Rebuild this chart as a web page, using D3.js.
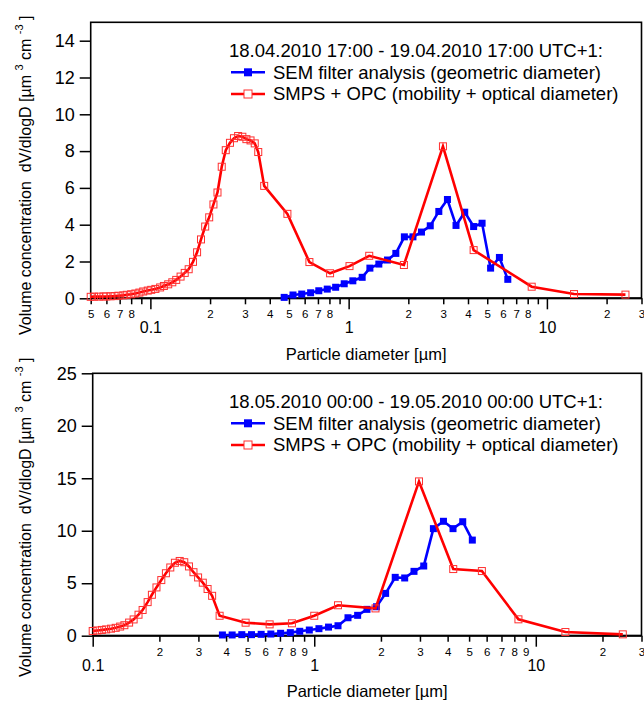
<!DOCTYPE html>
<html>
<head>
<meta charset="utf-8">
<script src="https://cdn.jsdelivr.net/npm/d3@7"></script>
<style>
  body { margin: 0; background: #fff; }
  svg text { font-family: "Liberation Sans", Arial, sans-serif; fill: #000; }
</style>
</head>
<body>
<div id="chart"></div>
<script>

// legend texts
var seriesNames = ["SEM filter analysis (geometric diameter)", "SMPS + OPC (mobility + optical diameter)"];
var topTitle = "18.04.2010 17:00 - 19.04.2010 17:00 UTC+1:";
var botTitle = "18.05.2010 00:00 - 19.05.2010 00:00 UTC+1:";

// top panel - SEM (blue)
var topSemD = [0.473,0.524,0.580,0.643,0.707,0.780,0.860,0.950,1.05,1.17,1.28,1.42,1.57,1.73,1.91,2.11,2.33,2.58,2.85,3.15,3.48,3.85,4.27,4.71,5.20,5.76,6.35];
var topSemV = [0.05,0.18,0.23,0.30,0.41,0.50,0.60,0.79,0.95,1.14,1.64,1.86,2.08,2.44,3.34,3.34,3.60,3.94,4.72,5.37,3.96,4.68,3.90,4.08,1.64,2.22,1.03];

// top panel - SMPS + OPC (red)
var topSmpsD = [0.050,0.052,0.055,0.058,0.060,0.063,0.066,0.069,0.073,0.076,0.080,0.084,0.088,0.092,0.097,0.101,0.106,0.112,0.117,0.123,0.129,0.135,0.142,0.149,0.156,0.164,0.172,0.180,0.189,0.198,0.208,0.218,0.229,0.240,0.252,0.264,0.277,0.291,0.305,0.320,0.336,0.350,0.375,0.491,0.634,0.806,1.01,1.27,1.90,2.99,4.27,8.38,13.7,24.9];
var topSmpsV = [0.08,0.09,0.09,0.10,0.10,0.11,0.12,0.14,0.16,0.19,0.22,0.26,0.31,0.37,0.42,0.46,0.51,0.59,0.67,0.76,0.87,1.00,1.18,1.38,1.58,1.98,2.50,3.20,3.90,4.40,5.10,5.75,7.15,8.05,8.45,8.70,8.82,8.78,8.65,8.58,8.42,7.95,6.11,4.59,1.97,1.36,1.75,2.31,1.81,8.26,2.62,0.63,0.23,0.20];

// bottom panel - SEM (blue)
var botSemD = [0.385,0.426,0.471,0.521,0.576,0.637,0.705,0.780,0.860,0.950,1.05,1.16,1.28,1.42,1.57,1.73,1.91,2.10,2.32,2.56,2.82,3.12,3.45,3.83,4.23,4.68,5.17];
var botSemV = [0.07,0.07,0.10,0.10,0.13,0.16,0.23,0.29,0.42,0.54,0.67,0.82,0.95,1.71,1.94,2.51,2.76,4.03,5.56,5.50,6.13,6.64,10.2,10.9,10.2,10.86,9.11];

// bottom panel - SMPS + OPC (red)
var botSmpsD = [0.100,0.105,0.110,0.115,0.121,0.127,0.133,0.139,0.146,0.153,0.161,0.168,0.177,0.185,0.194,0.204,0.214,0.224,0.235,0.247,0.259,0.272,0.285,0.299,0.314,0.330,0.346,0.374,0.490,0.629,0.793,1.00,1.28,1.89,2.97,4.24,5.71,8.35,13.6,24.7];
var botSmpsV = [0.45,0.50,0.55,0.60,0.67,0.75,0.87,1.00,1.25,1.55,2.00,2.45,3.20,3.90,4.60,5.30,5.95,6.50,6.95,7.12,7.00,6.60,6.05,5.55,5.05,4.45,3.80,1.90,1.24,1.08,1.18,1.90,2.90,2.60,14.7,6.35,6.16,1.56,0.35,0.13];

// axis ticks
var topYTicks = [0,2,4,6,8,10,12,14];
var botYTicks = [0,5,10,15,20,25];
var majorTicks = [0.1,1,10];
var topMinorLabels = [0.05,0.06,0.07,0.08,0.2,0.3,0.4,0.5,0.6,0.7,0.8,2,3,4,5,6,7,8,20,30];
var botMinorLabels = [0.2,0.3,0.4,0.5,0.6,0.7,0.8,0.9,2,3,4,5,6,7,8,9,20,30];

function init() {

    var svg = d3.select("#chart")
        .append("svg")
        .attr("width", 644)
        .attr("height", 701);

    drawPanel(svg, {
        left: 90.7, right: 641.5, top: 22.3, bottom: 298.3,
        xDomain: [0.05, 30], yDomain: [0, 15], yTicks: topYTicks,
        minorLabels: topMinorLabels, title: topTitle,
        sem: [topSemD, topSemV], smps: [topSmpsD, topSmpsV],
        yLabelStart: 335, xTitleY: 360
    });

    drawPanel(svg, {
        left: 92.7, right: 641.5, top: 373.3, bottom: 635.7,
        xDomain: [0.1, 30], yDomain: [0, 25], yTicks: botYTicks,
        minorLabels: botMinorLabels, title: botTitle,
        sem: [botSemD, botSemV], smps: [botSmpsD, botSmpsV],
        yLabelStart: 677, xTitleY: 697
    });
}

function drawPanel(svg, p) {

    var x = d3.scaleLog().domain(p.xDomain).range([p.left, p.right]);
    var y = d3.scaleLinear().domain(p.yDomain).range([p.bottom, p.top]);

    // all 1..9 ticks in each decade inside the domain
    var allTicks = [];
    [0.01, 0.1, 1, 10].forEach(function(dec) {
        for (var k = 1; k <= 9; k++) {
            var v = +(k * dec).toPrecision(3);
            if (v >= p.xDomain[0] - 1e-9 && v <= p.xDomain[1] + 1e-9) allTicks.push(v);
        }
    });

    function isMajor(v) { return majorTicks.some(m => Math.abs(m - v) < 1e-9); }
    function hasLabel(v) { return p.minorLabels.some(m => Math.abs(m - v) < 1e-9); }

    var xAxis = d3.axisBottom(x)
        .tickValues(allTicks)
        .tickSize(6)
        .tickFormat(function(v) {
            if (isMajor(v)) return String(v);
            if (hasLabel(v)) return String(Math.round(v / Math.pow(10, Math.floor(Math.log10(v) + 1e-9))));
            return "";
        });

    var gx = svg.append("g")
        .attr("transform", "translate(0," + p.bottom + ")")
        .call(xAxis);
    gx.select(".domain").remove();
    gx.selectAll(".tick line")
        .attr("stroke-width", 1.5)
        .attr("y2", d => isMajor(d) ? 11 : 6);
    gx.selectAll(".tick text")
        .attr("dy", null)
        .attr("y", d => isMajor(d) ? 35 : 20)
        .attr("font-size", d => isMajor(d) ? "16px" : "11.5px");

    var yAxis = d3.axisLeft(y)
        .tickValues(p.yTicks)
        .tickSize(11)
        .tickPadding(5)
        .tickFormat(d3.format("d"));

    var gy = svg.append("g")
        .attr("transform", "translate(" + p.left + ",0)")
        .call(yAxis);
    gy.select(".domain").remove();
    gy.selectAll(".tick line").attr("stroke-width", 1.5);
    gy.selectAll(".tick text").attr("font-size", "18px");

    // frame
    svg.append("rect")
        .attr("x", p.left)
        .attr("y", p.top)
        .attr("width", p.right - p.left)
        .attr("height", p.bottom - p.top)
        .attr("fill", "none")
        .attr("stroke", "#000")
        .attr("stroke-width", 1.6);
    // heavier bottom axis line
    svg.append("line")
        .attr("x1", p.left).attr("x2", p.right)
        .attr("y1", p.bottom).attr("y2", p.bottom)
        .attr("stroke", "#000")
        .attr("stroke-width", 2);

    var line = d3.line()
        .x(d => x(d[0]))
        .y(d => y(d[1]));

    var semData = d3.zip(p.sem[0], p.sem[1]);
    var smpsData = d3.zip(p.smps[0], p.smps[1]);
    var ms = 7;

    // SEM
    svg.append("path")
        .datum(semData)
        .attr("d", line)
        .attr("fill", "none")
        .attr("stroke", "#0000ff")
        .attr("stroke-width", 2.6);
    svg.append("g").selectAll("rect")
        .data(semData)
        .enter()
        .append("rect")
        .attr("x", d => x(d[0]) - ms / 2)
        .attr("y", d => y(d[1]) - ms / 2)
        .attr("width", ms)
        .attr("height", ms)
        .attr("fill", "#0000ff");

    // SMPS + OPC
    svg.append("path")
        .datum(smpsData)
        .attr("d", line)
        .attr("fill", "none")
        .attr("stroke", "#ff0000")
        .attr("stroke-width", 2.6);
    svg.append("g").selectAll("rect")
        .data(smpsData)
        .enter()
        .append("rect")
        .attr("x", d => x(d[0]) - ms / 2)
        .attr("y", d => y(d[1]) - ms / 2)
        .attr("width", ms)
        .attr("height", ms)
        .attr("fill", "none")
        .attr("stroke", "#ff3030")
        .attr("stroke-width", 1);

    // legend
    var lg = svg.append("g");
    lg.append("text")
        .attr("x", 229)
        .attr("y", p.top + 35)
        .attr("font-size", "18.5px")
        .text(p.title);

    [0, 1].forEach(function(i) {
        var cy = p.top + 50 + i * 21.7;
        var col = i === 0 ? "#0000ff" : "#ff0000";
        lg.append("line")
            .attr("x1", 231).attr("x2", 265)
            .attr("y1", cy).attr("y2", cy)
            .attr("stroke", col)
            .attr("stroke-width", 2.6);
        lg.append("rect")
            .attr("x", 248 - 4).attr("y", cy - 4)
            .attr("width", 8).attr("height", 8)
            .attr("fill", i === 0 ? col : "#fff")
            .attr("stroke", i === 0 ? "none" : "#ff3030")
            .attr("stroke-width", 1);
        lg.append("text")
            .attr("x", 273)
            .attr("y", cy)
            .attr("dy", "0.35em")
            .attr("font-size", "18.5px")
            .text(seriesNames[i]);
    });

    // x axis title
    svg.append("text")
        .attr("x", (p.left + p.right) / 2)
        .attr("y", p.xTitleY)
        .attr("text-anchor", "middle")
        .attr("font-size", "16.5px")
        .text("Particle diameter [µm]");

    // y axis title with superscripts
    var yt = svg.append("text")
        .attr("transform", "translate(31," + p.yLabelStart + ") rotate(-90)")
        .attr("font-size", "16px");
    yt.append("tspan").text("Volume concentration\u00a0\u00a0dV/dlogD [µm ");
    yt.append("tspan").attr("font-size", "11px").attr("dy", -8).text("3");
    yt.append("tspan").attr("dy", 8).text(" cm ");
    yt.append("tspan").attr("font-size", "11px").attr("dy", -8).text("-3");
    yt.append("tspan").attr("dy", 8).text(" ]");
}

window.onload = init;
</script>
</body>
</html>
